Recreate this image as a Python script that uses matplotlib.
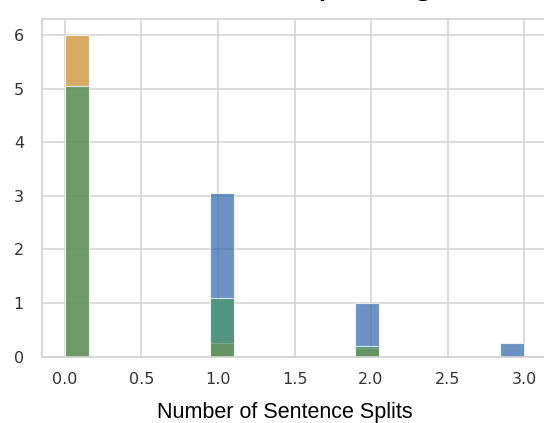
import numpy as np
import matplotlib
matplotlib.use("Agg")
import matplotlib.pyplot as plt

# Data
split_counts = [0, 1, 2, 3]
series_blue = [0.0, 3.06, 0.99, 0.25]
series_orange = [6.0, 0.25, 0.15, 0.0]
series_green = [5.05, 1.086, 0.196, 0.0]
x_ticks = [0.0, 0.5, 1.0, 1.5, 2.0, 2.5, 3.0]
y_ticks = [0, 1, 2, 3, 4, 5, 6]
title_text = "Sentence Splitting"
xlabel_text = "Number of Sentence Splits"

bins = np.linspace(0, 3, 20)

fig = plt.figure(figsize=(5.44, 4.23), dpi=100)
ax = fig.add_axes([42 / 544, 66.5 / 423, 505 / 544, 337.5 / 423])
ax.set_axisbelow(True)
ax.grid(True, color="#d2d2d2", linewidth=1.1)

common = dict(bins=bins, alpha=0.75, edgecolor="white", linewidth=0.8)
ax.hist(split_counts, weights=series_blue, color="#3b6fb0", **common)
ax.hist(split_counts, weights=series_orange, color="#cc8f2e", **common)
ax.hist(split_counts, weights=series_green, color="#4b956b", **common)

ax.set_xlim(-0.15, 3.15)
ax.set_ylim(0, 6.3)
ax.set_xticks(x_ticks)
ax.set_xticklabels([f"{t:.1f}" for t in x_ticks])
ax.set_yticks(y_ticks)
ax.tick_params(axis="x", length=0, labelsize=11.5, colors="#333333", pad=11)
ax.tick_params(axis="y", length=0, labelsize=11.5, colors="#333333", pad=13)
for sp in ax.spines.values():
    sp.set_color("#d2d2d2")
    sp.set_linewidth(1.2)

ax.set_xlabel(xlabel_text, fontsize=15.5, family="Liberation Sans", color="black")
ax.xaxis.set_label_coords((285 - 42) / 505, -0.135)

fig.text(110 / 544, 1 + 7.0 / 423, title_text, fontsize=29, family="Liberation Sans",
         va="baseline", ha="left", color="black")

fig.savefig("out.png", dpi=100)
